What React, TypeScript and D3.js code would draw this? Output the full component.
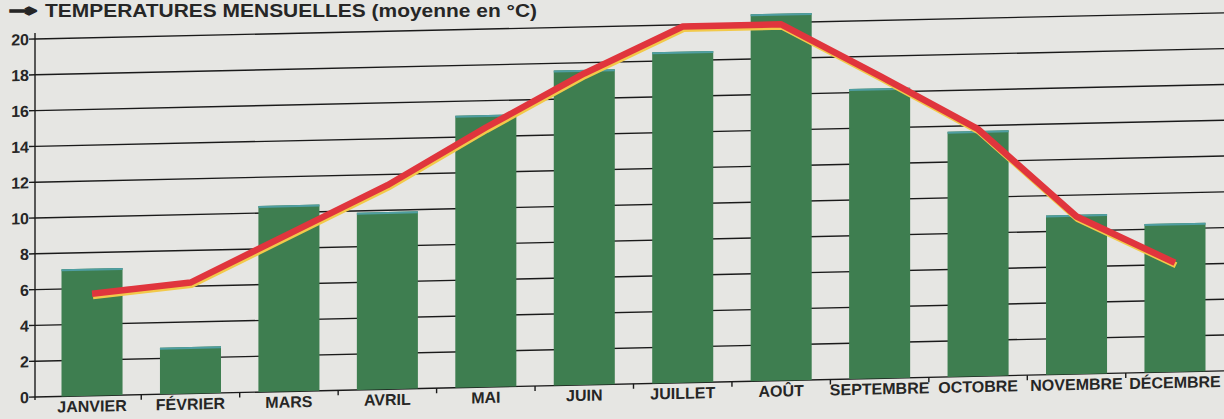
import { useEffect, useRef } from 'react'
import * as d3 from 'd3'

const W = 1224
const H = 419
const MONTHS = ['JANVIER', 'FÉVRIER', 'MARS', 'AVRIL', 'MAI', 'JUIN', 'JUILLET', 'AOÛT', 'SEPTEMBRE', 'OCTOBRE', 'NOVEMBRE', 'DÉCEMBRE']
const BAR_VALUES = [7.1, 2.6, 10.4, 9.9, 15.2, 17.6, 18.5, 20.5, 16.2, 13.7, 8.9, 8.3]
const LINE_VALUES = [5.7, 6.2, 8.8, 11.4, 14.5, 17.4, 19.9, 19.9, 16.9, 13.8, 8.8, 6.1]
const Y_TICKS = [0, 2, 4, 6, 8, 10, 12, 14, 16, 18, 20]
const TITLE = 'TEMPERATURES MENSUELLES (moyenne en °C)'

const AXIS_X = 35
const FONT = '"Liberation Sans", Arial, sans-serif'
const INK = '#262626'

export default function App() {
  const svgRef = useRef<SVGSVGElement>(null)

  useEffect(() => {
    const svg = d3.select(svgRef.current)
    svg.selectAll('*').remove()

    svg.append('rect').attr('width', W).attr('height', H).attr('fill', '#e6e6e3')

    // title
    svg.append('text')
      .attr('x', 9).attr('y', 15.5)
      .attr('textLength', 28).attr('lengthAdjust', 'spacingAndGlyphs')
      .attr('font-family', '"DejaVu Sans", sans-serif').attr('font-weight', 700).attr('font-size', 16)
      .attr('fill', INK).attr('stroke', INK).attr('stroke-width', 1.6)
      .text('→')
    svg.append('text')
      .attr('x', 45).attr('y', 17)
      .attr('textLength', 492).attr('lengthAdjust', 'spacingAndGlyphs')
      .attr('font-family', FONT).attr('font-weight', 700).attr('font-size', 18)
      .attr('fill', INK)
      .text(TITLE)

    // the scan is slightly skewed: horizontals rise to the right
    const g = svg.append('g').attr('transform', `matrix(1,-0.022,0,1,0,${0.022 * AXIS_X})`)

    const x = d3.scaleBand<string>().domain(MONTHS).range([42.8, 1224.2]).paddingInner(0.38).paddingOuter(0.19)
    const y = d3.scaleLinear().domain([0, 20]).range([397, 39])

    // grid lines
    g.append('g').selectAll('line').data(Y_TICKS).join('line')
      .attr('x1', AXIS_X).attr('x2', W + 20)
      .attr('y1', d => y(d)).attr('y2', d => y(d))
      .attr('stroke', '#1a1a1a').attr('stroke-width', 1.4)

    // y axis
    g.append('line')
      .attr('x1', AXIS_X).attr('x2', AXIS_X)
      .attr('y1', y(20) - 6).attr('y2', y(0) + 3)
      .attr('stroke', '#1a1a1a').attr('stroke-width', 1.4)
    g.append('g').selectAll('line').data(Y_TICKS).join('line')
      .attr('x1', AXIS_X - 6).attr('x2', AXIS_X)
      .attr('y1', d => y(d)).attr('y2', d => y(d))
      .attr('stroke', '#1a1a1a').attr('stroke-width', 1.4)
    g.append('g').selectAll('text').data(Y_TICKS).join('text')
      .attr('x', AXIS_X - 6).attr('y', d => y(d) + 6)
      .attr('text-anchor', 'end')
      .attr('font-family', FONT).attr('font-weight', 700).attr('font-size', 16)
      .attr('fill', INK)
      .text(d => d)

    // x ticks between bars
    const step = x.step()
    g.append('g').selectAll('line').data(MONTHS.slice(1)).join('line')
      .attr('x1', d => x(d)! - step * 0.19).attr('x2', d => x(d)! - step * 0.19)
      .attr('y1', y(0)).attr('y2', y(0) + 5)
      .attr('stroke', '#1a1a1a').attr('stroke-width', 1.4)

    // bars
    const bars = g.append('g')
    bars.selectAll('rect.bar').data(MONTHS).join('rect')
      .attr('class', 'bar')
      .attr('x', d => x(d)!).attr('width', x.bandwidth())
      .attr('y', (d, i) => y(BAR_VALUES[i]))
      .attr('height', (d, i) => y(0) - y(BAR_VALUES[i]))
      .attr('fill', '#3e7e50')
    bars.selectAll('rect.edge').data(MONTHS).join('rect')
      .attr('class', 'edge')
      .attr('x', d => x(d)!).attr('width', x.bandwidth())
      .attr('y', (d, i) => y(BAR_VALUES[i]))
      .attr('height', 2)
      .attr('fill', '#4f9ea2')

    // average line with its yellow misregistration shadow
    const line = d3.line<number>()
      .x((d, i) => x(MONTHS[i])! + x.bandwidth() / 2)
      .y(d => y(d))
    g.append('path')
      .datum(LINE_VALUES)
      .attr('d', line)
      .attr('transform', 'translate(1,2.5)')
      .attr('fill', 'none').attr('stroke', '#f2c94a').attr('stroke-width', 6)
      .attr('stroke-linejoin', 'round')
    g.append('path')
      .datum(LINE_VALUES)
      .attr('d', line)
      .attr('fill', 'none').attr('stroke', '#e0353d').attr('stroke-width', 6.5)
      .attr('stroke-linejoin', 'round')

    // month labels
    g.append('g').selectAll('text').data(MONTHS).join('text')
      .attr('x', d => x(d)! + x.bandwidth() / 2).attr('y', y(0) + 16)
      .attr('text-anchor', 'middle')
      .attr('font-family', FONT).attr('font-weight', 700).attr('font-size', 16)
      .attr('fill', INK)
      .text(d => d)
  }, [])

  return (
    <svg ref={svgRef} width={W} height={H} style={{ position: 'absolute', left: 0, top: 0, display: 'block' }} />
  )
}
